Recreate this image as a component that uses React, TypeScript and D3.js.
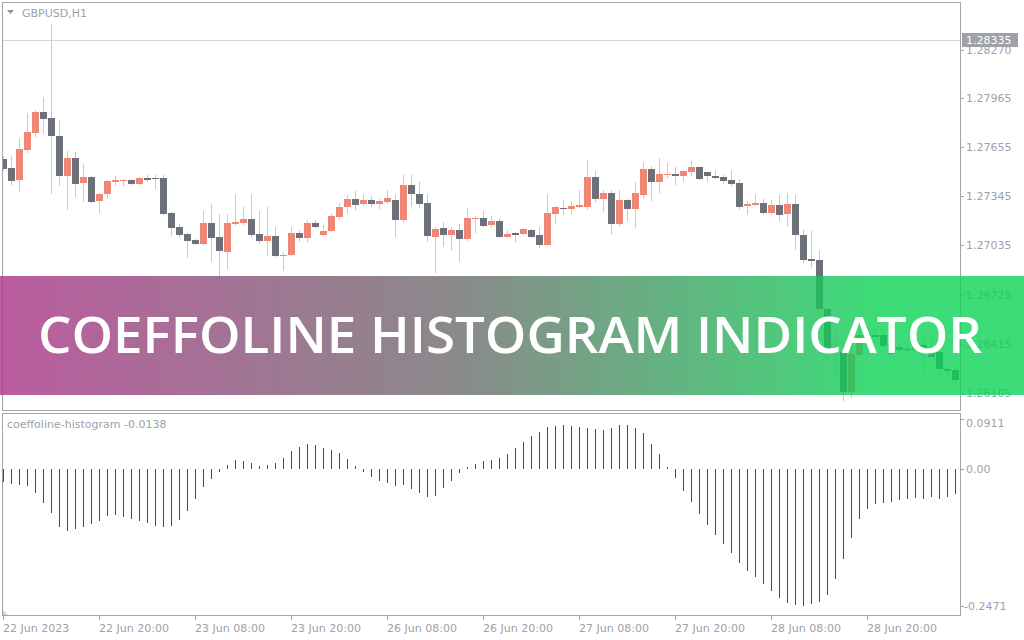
import React from "react";
import * as d3 from "d3";

const opens = [1.2758,1.27523,1.27448,1.27637,1.27745,1.27877,1.27839,1.27726,1.27473,1.27587,
1.27429,1.27467,1.27315,1.27359,1.27435,1.27441,1.27448,1.27422,1.2746,1.2746,
1.2746,1.27239,1.27151,1.27107,1.27069,1.27044,1.27176,1.27088,1.26993,1.2717,
1.27176,1.27202,1.27107,1.27063,1.27094,1.26968,1.26974,1.27113,1.27082,1.27176,
1.271,1.27126,1.27214,1.27277,1.27328,1.27296,1.27322,1.27296,1.27309,1.27322,
1.27195,1.27416,1.27359,1.27303,1.27088,1.27145,1.271,1.27132,1.27075,1.27202,
1.27208,1.27164,1.27189,1.27088,1.27113,1.27107,1.27132,1.271,1.27037,1.27233,
1.27271,1.27265,1.27277,1.27277,1.27467,1.27328,1.27366,1.2717,1.27322,1.27265,
1.27353,1.27517,1.27435,1.27479,1.27486,1.27473,1.27498,1.2753,1.27498,1.27473,
1.27467,1.27448,1.27429,1.27284,1.2729,1.27303,1.27239,1.2729,1.27233,1.27296,
1.271,1.26949,1.26943,1.26633,1.26381,1.26362,1.26109,1.26343,1.26476,1.26469,
1.26469,1.264,1.26394,1.26381,1.26375,1.26406,1.26362,1.26362,1.26255,1.26248];

const highs = [1.27599,1.27599,1.27713,1.27871,1.2789,1.27972,1.28433,1.27827,1.27631,1.27625,
1.27549,1.27473,1.27366,1.27448,1.27473,1.27454,1.27454,1.27467,1.27479,1.27479,
1.27479,1.27246,1.2717,1.27113,1.27075,1.27252,1.27296,1.27233,1.27233,1.27359,
1.27277,1.27359,1.27252,1.27277,1.27151,1.26993,1.27151,1.27132,1.27195,1.27195,
1.27164,1.27239,1.27303,1.27353,1.27378,1.27359,1.27347,1.27328,1.27385,1.27359,
1.27479,1.27479,1.27441,1.27359,1.27151,1.27183,1.27151,1.2717,1.27271,1.2722,
1.27252,1.2722,1.27208,1.27132,1.27119,1.27145,1.27138,1.27151,1.27359,1.27284,
1.27322,1.27315,1.27385,1.27574,1.27505,1.27385,1.27385,1.27385,1.27328,1.27435,
1.27561,1.27536,1.27587,1.27555,1.2753,1.27511,1.27568,1.2753,1.27498,1.27511,
1.27479,1.27511,1.27454,1.27315,1.27359,1.27328,1.27322,1.27353,1.27366,1.27353,
1.27138,1.27126,1.27006,1.26633,1.26482,1.26425,1.26406,1.2652,1.2652,1.26501,
1.26501,1.26438,1.26425,1.26406,1.26413,1.26457,1.26457,1.26406,1.2628,1.26261];

const lows = [1.27505,1.27416,1.27372,1.27618,1.27719,1.27738,1.27359,1.2741,1.27258,1.2734,
1.27309,1.27303,1.27239,1.27328,1.2741,1.27404,1.27416,1.27416,1.27435,1.27391,
1.27227,1.27094,1.27082,1.26955,1.27037,1.27037,1.2693,1.26835,1.26886,1.27157,
1.27164,1.27082,1.27044,1.26968,1.26962,1.26873,1.26968,1.27056,1.2705,1.27145,
1.27094,1.27119,1.27195,1.27233,1.27252,1.27284,1.27277,1.27265,1.27296,1.27088,
1.27176,1.27277,1.27271,1.27056,1.26861,1.27025,1.26999,1.2693,1.27063,1.27113,
1.27151,1.27145,1.27082,1.27082,1.2705,1.271,1.27082,1.27018,1.27031,1.2717,
1.27227,1.27233,1.27271,1.27258,1.27303,1.27246,1.271,1.27151,1.27189,1.27145,
1.27328,1.27315,1.27366,1.27454,1.27416,1.27435,1.27473,1.27448,1.27435,1.27454,
1.27422,1.27404,1.27258,1.27227,1.27284,1.27227,1.27227,1.27189,1.27151,1.27006,
1.26924,1.26892,1.26621,1.26311,1.26217,1.26053,1.26072,1.26324,1.26406,1.26438,
1.26387,1.26343,1.26362,1.26362,1.26362,1.26236,1.2633,1.26248,1.26198,1.26154];

const closes = [1.27517,1.27441,1.27643,1.27751,1.27877,1.27833,1.27726,1.27473,1.27587,1.27422,
1.27467,1.27309,1.27359,1.27441,1.27448,1.27448,1.27422,1.2746,1.27448,1.27454,
1.27233,1.27145,1.271,1.27063,1.27044,1.27176,1.27082,1.26999,1.27176,1.27183,
1.27202,1.271,1.27063,1.27094,1.26968,1.26974,1.27113,1.27082,1.27176,1.27151,
1.27126,1.2722,1.27277,1.27328,1.2729,1.27322,1.27296,1.27315,1.27334,1.27195,
1.27416,1.27359,1.27296,1.27094,1.27138,1.271,1.27132,1.27075,1.27208,1.27208,
1.27157,1.27189,1.27088,1.27107,1.271,1.27138,1.27088,1.27037,1.27239,1.27277,
1.27265,1.27284,1.2729,1.27467,1.27328,1.27366,1.2717,1.27322,1.27265,1.27366,
1.27517,1.27435,1.27486,1.27486,1.27473,1.27505,1.2753,1.27454,1.27473,1.2746,
1.27441,1.27422,1.27277,1.27296,1.27303,1.27239,1.2729,1.27227,1.27296,1.271,
1.26943,1.26936,1.26633,1.26375,1.26362,1.26109,1.26349,1.26469,1.26457,1.26457,
1.264,1.26349,1.26375,1.26375,1.264,1.26362,1.2633,1.26255,1.26242,1.26185];

const histValues = [-0.0222,-0.0266,-0.0284,-0.0302,-0.0429,-0.0609,-0.079,-0.1043,-0.1116,-0.108,
-0.1043,-0.0989,-0.0935,-0.0844,-0.0826,-0.0863,-0.0899,-0.0935,-0.0971,-0.1025,
-0.1043,-0.1025,-0.0917,-0.0754,-0.0537,-0.032,-0.0175,-0.0049,0.0078,0.0168,
0.015,0.0114,0.006,0.0078,0.0114,0.0204,0.0331,0.0403,0.0458,0.0439,
0.0385,0.0349,0.0295,0.0186,0.006,-0.0049,-0.0139,-0.0212,-0.0248,-0.0302,
-0.0284,-0.0356,-0.0429,-0.0501,-0.0483,-0.0338,-0.0212,-0.0067,0.0042,0.0096,
0.015,0.0168,0.0204,0.0277,0.0385,0.0494,0.0602,0.0675,0.0765,0.0783,
0.0801,0.0783,0.0765,0.0747,0.0729,0.0711,0.0747,0.0801,0.0801,0.0747,
0.0656,0.0458,0.0277,0.0042,-0.0157,-0.0385,-0.0591,-0.0808,-0.1007,-0.1188,
-0.1351,-0.1514,-0.1694,-0.1839,-0.1948,-0.2074,-0.2201,-0.2327,-0.2418,-0.2454,
-0.2471,-0.2436,-0.24,-0.2273,-0.1984,-0.1622,-0.1242,-0.0899,-0.0718,-0.0627,
-0.0609,-0.0591,-0.0555,-0.0537,-0.0519,-0.0537,-0.0501,-0.0537,-0.0501,-0.0447];

const priceTicks = [1.2827, 1.27965, 1.27655, 1.27345, 1.27035, 1.26725, 1.26415, 1.26105];
const histTicks = [0.0911, 0.0, -0.2471];
const histTickLabels = ["0.0911", "0.00", "-0.2471"];
const timeTickIndex = [0, 12, 24, 36, 48, 60, 72, 84, 96, 108];
const timeTickLabels = ["22 Jun 2023", "22 Jun 20:00", "23 Jun 08:00", "23 Jun 20:00", "26 Jun 08:00",
  "26 Jun 20:00", "27 Jun 08:00", "27 Jun 20:00", "28 Jun 08:00", "28 Jun 20:00"];
const bidPrice = 1.28335;
const symbolLabel = "GBPUSD,H1";
const indicatorLabel = "coeffoline-histogram -0.0138";
const bannerTitle = "COEFFOLINE HISTOGRAM INDICATOR";

const W = 1024, H = 640;
const FONT = "DejaVu Sans, Verdana, sans-serif";
const TXT = "#9da2ab";
const FRAME = "#a4a4a4";
const BULL = "#ef8676";
const BEAR = "#6b7079";
const WICK = "#c9cad2";
const HIST = "#e00a0a";

export default function App() {
  const x = d3.scaleLinear().domain([0, 119]).range([3, 955]);
  const yP = d3.scaleLinear().domain([1.26105, 1.2827]).range([392.7, 49.8]);
  const yH = d3.scaleLinear().domain([-0.2471, 0.0911]).range([606, 418.9]);
  const zeroY = Math.round(yH(0));

  const candles = opens.map((o, i) => {
    const c = closes[i];
    const cx = Math.round(x(i));
    const yo = Math.round(yP(o));
    const yc = Math.round(yP(c));
    const top = Math.min(yo, yc);
    const h = Math.max(1, Math.abs(yo - yc));
    const yh = Math.round(yP(highs[i]));
    const yl = Math.round(yP(lows[i]));
    return (
      <g key={i}>
        <rect x={cx} y={yh} width={1} height={Math.max(1, yl - yh)} fill={WICK} />
        <rect x={cx - 3} y={top} width={7} height={h} fill={c >= o ? BULL : BEAR} />
      </g>
    );
  });

  const bars = histValues.map((v, i) => {
    const cx = Math.round(x(i));
    const yv = Math.round(yH(v));
    const top = Math.min(yv, zeroY);
    const h = Math.max(1, Math.abs(yv - zeroY));
    return <rect key={i} x={cx} y={top} width={1} height={h} fill={HIST} />;
  });

  const bidY = Math.round(yP(bidPrice)) + 0.5;

  return (
    <svg width={W} height={H} style={{ position: "absolute", left: 0, top: 0, background: "#fff" }}
      fontFamily={FONT}>
      <defs>
        <clipPath id="mainClip"><rect x={3} y={3} width={957} height={408} /></clipPath>
        <clipPath id="histClip"><rect x={3} y={414} width={957} height={202} /></clipPath>
        <linearGradient id="bannerGrad" x1="0" x2="1" y1="0" y2="0">
          <stop offset="0" stopColor="#aa3387" />
          <stop offset="0.45" stopColor="#6d6d6d" />
          <stop offset="0.86" stopColor="#0cd356" />
          <stop offset="1" stopColor="#0cd356" />
        </linearGradient>
      </defs>
      <rect x={0} y={0} width={W} height={H} fill="#ffffff" />

      {/* main pane */}
      <g clipPath="url(#mainClip)">
        <line x1={3} x2={960} y1={bidY} y2={bidY} stroke="#d6d7dd" strokeWidth={1} />
        {candles}
      </g>
      <rect x={2.5} y={2.5} width={958} height={408} fill="none" stroke={FRAME} strokeWidth={1} />

      {/* price axis */}
      {priceTicks.map((p, i) => {
        const yy = Math.round(yP(p)) + 0.5;
        return (
          <g key={i}>
            <line x1={961} x2={964} y1={yy} y2={yy} stroke={FRAME} />
            <text x={966} y={yy} dy="0.35em" fontSize={11} fill={TXT}>{p.toFixed(5)}</text>
          </g>
        );
      })}
      <rect x={962} y={bidY - 7.5} width={56} height={14} fill="#9fa1a8" />
      <text x={966} y={bidY} dy="0.35em" fontSize={11} fill="#ffffff">{bidPrice.toFixed(5)}</text>

      <path d="M7,10 L14,10 L10.5,14 Z" fill="#8c9099" />
      <text x={22} y={13} dy="0.35em" fontSize={11} fill={TXT}>{symbolLabel}</text>

      {/* indicator pane */}
      <g clipPath="url(#histClip)">{bars}</g>
      <rect x={2.5} y={413.5} width={958} height={202} fill="none" stroke={FRAME} strokeWidth={1} />
      <path d="M3,610 L3,615 L8,615 Z" fill="#d3d6de" />
      <text x={7} y={424} dy="0.35em" fontSize={11} fill={TXT}>{indicatorLabel}</text>
      {histTicks.map((v, i) => {
        const yy = Math.round(yH(v)) + 0.5;
        const ty = Math.min(Math.max(yy, 423), 608);
        return (
          <g key={i}>
            <line x1={961} x2={964} y1={yy} y2={yy} stroke={FRAME} />
            <text x={v < 0 ? 964 : 966} y={ty} dy="0.35em" fontSize={11} fill={TXT}>{histTickLabels[i]}</text>
          </g>
        );
      })}

      {/* time axis */}
      {timeTickIndex.map((idx, i) => {
        const xx = Math.round(x(idx)) + 0.5;
        return (
          <g key={i}>
            <line x1={xx} x2={xx} y1={616} y2={620} stroke={FRAME} />
            <text x={xx - 0.5} y={628} dy="0.35em" fontSize={11} fill={TXT}>{timeTickLabels[i]}</text>
          </g>
        );
      })}

      {/* banner */}
      <rect x={0} y={276} width={W} height={119} fill="url(#bannerGrad)" opacity={0.8} />
      <text x={510} y={353} textAnchor="middle" fontFamily="'Open Sans', Lato, sans-serif" fontWeight={600}
        fontSize={50} fill="#ffffff" textLength={944} lengthAdjust="spacingAndGlyphs">{bannerTitle}</text>
    </svg>
  );
}
